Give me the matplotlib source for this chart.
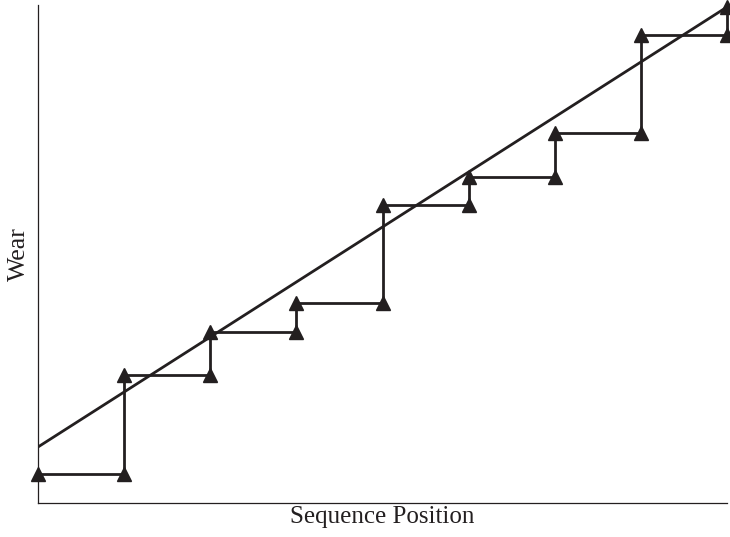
import numpy as np
import matplotlib
matplotlib.use("Agg")
import matplotlib.pyplot as plt

# step levels of wear at each sequence position
POSITIONS = [0, 1, 2, 3, 4, 5, 6, 7, 8]
WEAR_LEVELS = [29, 128, 171, 200, 298, 326, 370, 468, 496]
# fitted straight trend line (start, end)
TREND_X = [0, 8]
TREND_Y = [56, 496]

INK = "#231f20"

plt.rcParams["font.family"] = ["Liberation Serif", "DejaVu Serif"]

fig = plt.figure(figsize=(7.3, 5.37), dpi=100)
ax = fig.add_axes([38 / 730, 34 / 537, 689 / 730, 498 / 537])

# build the staircase vertices: horizontal then vertical
sx, sy = [POSITIONS[0]], [WEAR_LEVELS[0]]
for i in range(1, len(POSITIONS)):
    sx += [POSITIONS[i], POSITIONS[i]]
    sy += [WEAR_LEVELS[i - 1], WEAR_LEVELS[i]]

ax.plot(sx, sy, color=INK, lw=2.0, marker="^", ms=9.5, mfc=INK, mec=INK,
        clip_on=False, zorder=3)
ax.plot(TREND_X, TREND_Y, color=INK, lw=2.0, zorder=2)

ax.set_xlim(0, 8)
ax.set_ylim(0, 498)
ax.set_xticks([])
ax.set_yticks([])
for side in ["top", "right"]:
    ax.spines[side].set_visible(False)
for side in ["left", "bottom"]:
    ax.spines[side].set_linewidth(0.9)
    ax.spines[side].set_color(INK)

ax.set_xlabel("Sequence Position", fontsize=18, color=INK, labelpad=2)
ax.set_ylabel("Wear", fontsize=18.5, color=INK, labelpad=6)

fig.savefig("out.png", dpi=100)
